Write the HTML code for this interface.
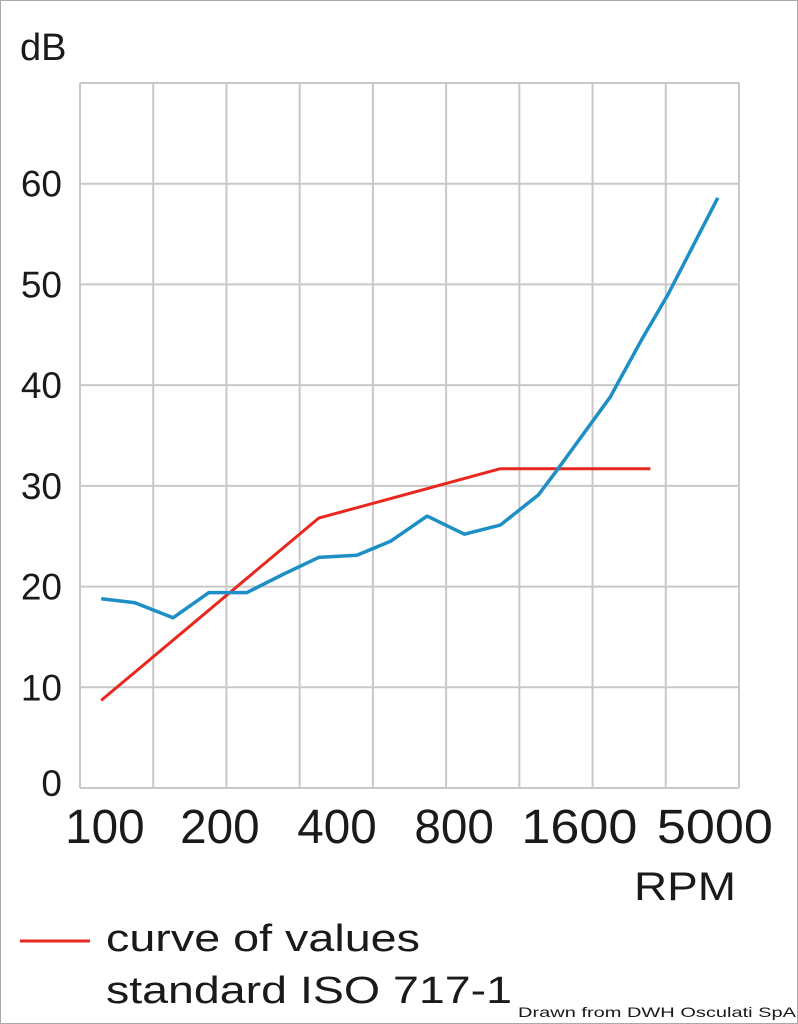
<!DOCTYPE html>
<html><head><meta charset="utf-8"><style>
html,body{margin:0;padding:0;background:#fff}
svg{display:block}
text{font-family:"Liberation Sans",sans-serif;fill:#1a1a1a}
</style></head><body>
<svg id="chart" width="798" height="1024" viewBox="0 0 798 1024" xmlns="http://www.w3.org/2000/svg">
<rect x="0.5" y="0.5" width="797" height="1023" fill="#fff" stroke="#aaa"/>
<g id="grid"></g>
<g id="series"></g>
<g id="labels"></g>
<text x="20" y="60" font-size="38">dB</text>
<text x="634" y="900" font-size="40" textLength="102" lengthAdjust="spacingAndGlyphs">RPM</text>
<line x1="20" y1="941" x2="90" y2="941" stroke="#e8281e" stroke-width="3"/>
<text x="106" y="951" font-size="38" textLength="314" lengthAdjust="spacingAndGlyphs">curve of values</text>
<text x="106" y="1003" font-size="38" textLength="406" lengthAdjust="spacingAndGlyphs">standard ISO 717-1</text>
<text x="518" y="1017" font-size="14" textLength="278" lengthAdjust="spacingAndGlyphs">Drawn from DWH Osculati SpA</text>
</svg>
<script>
const yTicks = [0, 10, 20, 30, 40, 50, 60];
const xTickLabels = ["100", "200", "400", "800", "1600", "5000"];
const xTickPos = [0.34, 1.91, 3.51, 5.11, 6.82, 8.67];
const blueX = [0.29, 0.75, 1.27, 1.76, 2.28, 2.77, 3.26, 3.78, 4.24, 4.74, 5.25, 5.74, 6.26, 6.53, 7.24, 7.67, 8.03, 8.71];
const blueY = [18.8, 18.4, 16.9, 19.4, 19.4, 21.2, 22.9, 23.1, 24.5, 27.0, 25.2, 26.1, 29.1, 31.7, 38.8, 44.5, 49.0, 58.6];
const isoX = [0.29, 3.26, 5.74, 7.79];
const isoY = [8.7, 26.8, 31.7, 31.7];

const L = 80, R = 739, T = 83, B = 788, NX = 9, YMAX = 70;
const sx = g => L + g * (R - L) / NX;
const sy = v => B - v * (B - T) / YMAX;
const NS = "http://www.w3.org/2000/svg";
function mk(tag, attrs, parent) {
  const e = document.createElementNS(NS, tag);
  for (const k in attrs) e.setAttribute(k, attrs[k]);
  parent.appendChild(e);
  return e;
}
const grid = document.getElementById("grid");
for (let i = 0; i <= NX; i++) {
  const l = mk("line", {x1: sx(i), x2: sx(i), y1: T, y2: B, stroke: "#c8c8c8", "stroke-width": 2}, grid);
  
  
}
for (let v = 0; v <= YMAX; v += 10) {
  const l = mk("line", {x1: L, x2: R, y1: sy(v), y2: sy(v), stroke: "#c8c8c8", "stroke-width": 2}, grid);
  
  
}
const labels = document.getElementById("labels");
yTicks.forEach(v => {
  const t = mk("text", {x: 62, y: sy(v) + 13 - (v === 0 ? 5 : 0), "font-size": 37, "text-anchor": "end"}, labels);
  t.textContent = String(v);
  
  
});
xTickLabels.forEach((s, i) => {
  const t = mk("text", {x: sx(xTickPos[i]), y: 843, "font-size": 48, "text-anchor": "middle", textLength: s.length * (s.length > 3 ? 29 : 26.5), lengthAdjust: "spacingAndGlyphs"}, labels);
  t.textContent = s;
  
  
});
const series = document.getElementById("series");
function pts(xs, ys) { return xs.map((x, i) => sx(x).toFixed(1) + "," + sy(ys[i]).toFixed(1)).join(" "); }
const iso = mk("polyline", {points: pts(isoX, isoY), fill: "none", stroke: "#e8281e", "stroke-width": 3, "stroke-linejoin": "round"}, series);


const blue = mk("polyline", {points: pts(blueX, blueY), fill: "none", stroke: "#1e8fc6", "stroke-width": 3.5, "stroke-linejoin": "round"}, series);


</script>
</body></html>
